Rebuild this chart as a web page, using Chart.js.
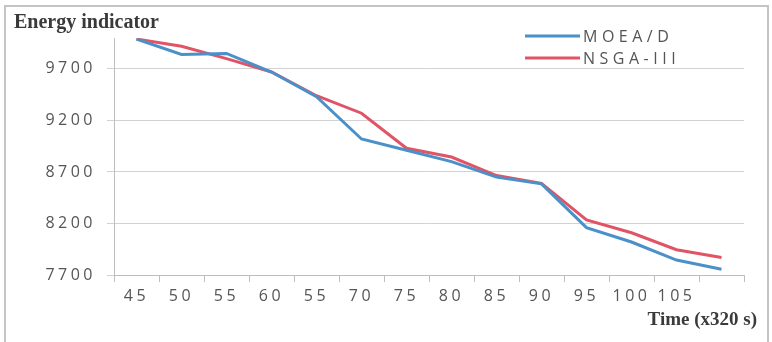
<!DOCTYPE html>
<html>
<head>
<meta charset="utf-8">
<script src="https://cdn.jsdelivr.net/npm/chart.js@4/dist/chart.umd.min.js"></script>
<style>
    body { margin: 0; background: #fff; }
    #wrap { position: relative; width: 772px; height: 342px; }
</style>
</head>
<body>
<div id="wrap"><canvas id="energyChart" width="772" height="342"></canvas></div>
<script>
// values
const timeLabels = ['45', '50', '55', '60', '55', '70', '75', '80', '85', '90', '95', '100', '105', ''];
const moeadValues = [9990, 9840, 9850, 9670, 9430, 9020, 8910, 8800, 8650, 8585, 8160, 8020, 7845, 7755];
const nsgaValues = [9990, 9920, 9800, 9670, 9440, 9270, 8930, 8845, 8665, 8590, 8235, 8110, 7945, 7870];
const yTicks = [7700, 8200, 8700, 9200, 9700];

const seriesNames = ['MOEA/D', 'NSGA-III'];
const seriesColors = ['#4A90C9', '#E05466'];

const sansFamily = '"Open Sans", sans-serif';
const tickFont = { family: sansFamily, size: 16 };
const spacing = '3.5px';

// texts and legend drawn by hand so they can sit where the original has them
const annotations = {
    id: 'annotations',
    beforeDraw(chart) {
        const ctx = chart.ctx;
        ctx.save();
        ctx.strokeStyle = '#c4c4c4';
        ctx.lineWidth = 2;
        ctx.strokeRect(5, 6, 763, 345);
        ctx.restore();
        // wide looking tick labels
        ctx.letterSpacing = spacing;
    },
    beforeDatasetsDraw(chart) {
        chart.ctx.letterSpacing = '0px';
    },
    afterDraw(chart) {
        const ctx = chart.ctx;
        ctx.save();
        ctx.letterSpacing = '0px';
        ctx.fillStyle = '#3a3a3a';
        ctx.font = 'bold 20px "Liberation Serif"';
        ctx.textAlign = 'left';
        ctx.textBaseline = 'alphabetic';
        ctx.fillText('Energy indicator', 14, 28);

        ctx.font = 'bold 19px "Liberation Serif"';
        ctx.textAlign = 'right';
        ctx.fillText('Time (x320 s)', 757, 325);

        const rows = [36, 58];
        ctx.font = '16px ' + sansFamily;
        ctx.letterSpacing = '4.5px';
        ctx.textAlign = 'left';
        ctx.textBaseline = 'middle';
        rows.forEach(function (y, i) {
            ctx.strokeStyle = seriesColors[i];
            ctx.lineWidth = 3;
            ctx.beginPath();
            ctx.moveTo(525, y);
            ctx.lineTo(580, y);
            ctx.stroke();
            ctx.fillStyle = '#555555';
            ctx.fillText(seriesNames[i], 583, y + 1);
        });
        ctx.restore();
    }
};

const ctx = document.getElementById('energyChart').getContext('2d');
new Chart(ctx, {
    type: 'line',
    data: {
        labels: timeLabels,
        datasets: [{
            label: seriesNames[0],
            data: moeadValues,
            borderColor: seriesColors[0],
            backgroundColor: seriesColors[0],
            borderWidth: 3,
            pointRadius: 0,
            tension: 0
        }, {
            label: seriesNames[1],
            data: nsgaValues,
            borderColor: seriesColors[1],
            backgroundColor: seriesColors[1],
            borderWidth: 3,
            pointRadius: 0,
            tension: 0
        }]
    },
    options: {
        responsive: false,
        animation: false,
        layout: {
            padding: { left: 0, top: 38, right: 28, bottom: 37 }
        },
        plugins: {
            legend: { display: false },
            tooltip: { enabled: false }
        },
        scales: {
            x: {
                offset: true,
                afterFit: function (scale) { scale.height = 30; },
                grid: {
                    offset: true,
                    drawOnChartArea: false,
                    drawTicks: true,
                    tickLength: 7,
                    color: '#bdbdbd'
                },
                border: { color: '#bdbdbd', width: 1 },
                ticks: {
                    font: tickFont,
                    color: '#555555',
                    padding: 5,
                    maxRotation: 0,
                    autoSkip: false
                }
            },
            y: {
                min: 7700,
                max: 10000,
                afterFit: function (scale) { scale.width = 114; },
                afterBuildTicks: function (scale) {
                    scale.ticks = yTicks.map(v => ({ value: v }));
                },
                grid: {
                    color: '#d2d2d2',
                    tickLength: 7
                },
                border: { color: '#bdbdbd', width: 1 },
                ticks: {
                    font: tickFont,
                    color: '#555555',
                    padding: 11,
                    callback: function (value) { return String(value); }
                }
            }
        }
    },
    plugins: [annotations]
});
</script>
</body>
</html>
